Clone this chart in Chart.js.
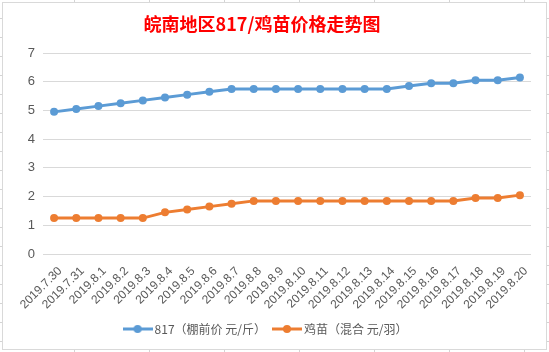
<!DOCTYPE html>
<html>
<head>
<meta charset="utf-8">
<script src="https://cdn.jsdelivr.net/npm/chart.js@4/dist/chart.umd.min.js"></script>
<style>
  html, body { margin: 0; padding: 0; }
  body {
    width: 549px; height: 352px; overflow: hidden;
    background-color: #fff;
    background-image:
      repeating-linear-gradient(to right, transparent 0 74px, #d4d4d4 74px 75px),
      repeating-linear-gradient(to bottom, transparent 0 18px, #d4d4d4 18px 19px);
  }
  .chart-box {
    position: absolute; left: 2px; top: 2px;
    width: 543px; height: 346px;
    border: 1px solid #d9d9d9; background: #fff;
  }
</style>
</head>
<body>
<div class="chart-box"><canvas id="myChart" width="543" height="346"></canvas></div>
<script>
// categories (dates)
const dates = ['2019.7.30', '2019.7.31', '2019.8.1', '2019.8.2', '2019.8.3', '2019.8.4', '2019.8.5',
  '2019.8.6', '2019.8.7', '2019.8.8', '2019.8.9', '2019.8.10', '2019.8.11', '2019.8.12', '2019.8.13',
  '2019.8.14', '2019.8.15', '2019.8.16', '2019.8.17', '2019.8.18', '2019.8.19', '2019.8.20']

// 817 (棚前价 元/斤)
const price817 = [4.95, 5.05, 5.15, 5.25, 5.35, 5.45, 5.55, 5.65, 5.75, 5.75, 5.75,
  5.75, 5.75, 5.75, 5.75, 5.75, 5.85, 5.95, 5.95, 6.05, 6.05, 6.15]

// 鸡苗 (混合 元/羽)
const chickPrice = [1.25, 1.25, 1.25, 1.25, 1.25, 1.45, 1.55, 1.65, 1.75, 1.85, 1.85,
  1.85, 1.85, 1.85, 1.85, 1.85, 1.85, 1.85, 1.85, 1.95, 1.95, 2.05]

const seriesNames = ['817（棚前价 元/斤）', '鸡苗（混合 元/羽）']
const yTicks = [0, 1, 2, 3, 4, 5, 6, 7]

const titleText = '皖南地区817/鸡苗价格走势图'
const blue = '#5b9bd5'
const orange = '#ed7d31'

// legend marker: short line with a dot in the middle, like excel
let legendMarker = (color) => {
	let c = document.createElement('canvas')
	c.width = 30
	c.height = 10
	let g = c.getContext('2d')
	g.strokeStyle = color
	g.lineWidth = 3
	g.beginPath()
	g.moveTo(0, 5)
	g.lineTo(30, 5)
	g.stroke()
	g.fillStyle = color
	g.beginPath()
	g.arc(15, 5, 4, 0, Math.PI * 2)
	g.fill()
	return c
}

// title drawn by hand so it can sit a bit left of center like the original
const chartTitle = {
	id: 'chartTitle',
	afterDraw(chart) {
		const ctx = chart.ctx
		ctx.save()
		ctx.font = 'bold 18px "Noto Sans CJK SC"'
		ctx.fillStyle = '#ff0000'
		ctx.textAlign = 'center'
		ctx.textBaseline = 'middle'
		ctx.fillText(titleText, 259, 21)
		ctx.restore()
	}
}

const makeSet = (label, data, color) => ({
	label,
	data,
	borderColor: color,
	backgroundColor: color,
	borderWidth: 3,
	pointRadius: 4,
	pointHoverRadius: 4,
	pointBackgroundColor: color,
	pointBorderWidth: 0,
	pointStyle: 'circle',
	tension: 0,
	fill: false
})

const config = {
	type: 'line',
	data: {
		labels: dates,
		datasets: [
			makeSet(seriesNames[0], price817, blue),
			makeSet(seriesNames[1], chickPrice, orange)
		]
	},
	options: {
		responsive: false,
		animation: false,
		layout: {
			padding: { left: 0, right: 15, top: 50, bottom: 4 }
		},
		scales: {
			x: {
				offset: true,
				grid: { display: false, drawTicks: false },
				border: { display: false },
				ticks: {
					autoSkip: false,
					minRotation: 45,
					maxRotation: 45,
					padding: 10,
					labelOffset: 6,
					color: '#595959',
					font: { family: '"Liberation Sans"', size: 12 }
				},
				afterFit(scale) { scale.height = 59 }
			},
			y: {
				min: 0,
				max: 7,
				afterBuildTicks(scale) { scale.ticks = yTicks.map(v => ({ value: v })) },
				grid: { color: '#d9d9d9', lineWidth: 1, drawTicks: false },
				border: { display: false },
				ticks: {
					padding: 8,
					color: '#595959',
					font: { family: '"Liberation Sans"', size: 13 }
				},
				afterFit(scale) { scale.width = 40 }
			}
		},
		plugins: {
			title: { display: false },
			tooltip: { enabled: false },
			legend: {
				position: 'bottom',
				labels: {
					usePointStyle: true,
					pointStyleWidth: 22,
					padding: 10,
					color: '#595959',
					font: { family: '"Noto Sans CJK SC"', size: 12 },
					generateLabels(chart) {
						return chart.data.datasets.map((ds, i) => ({
							text: ds.label,
							fillStyle: ds.borderColor,
							strokeStyle: ds.borderColor,
							lineWidth: 0,
							pointStyle: legendMarker(ds.borderColor),
							fontColor: '#595959',
							datasetIndex: i,
							hidden: false
						}))
					}
				}
			}
		}
	},
	plugins: [chartTitle]
}

const myChart = new Chart(document.getElementById('myChart'), config)
</script>
</body>
</html>
